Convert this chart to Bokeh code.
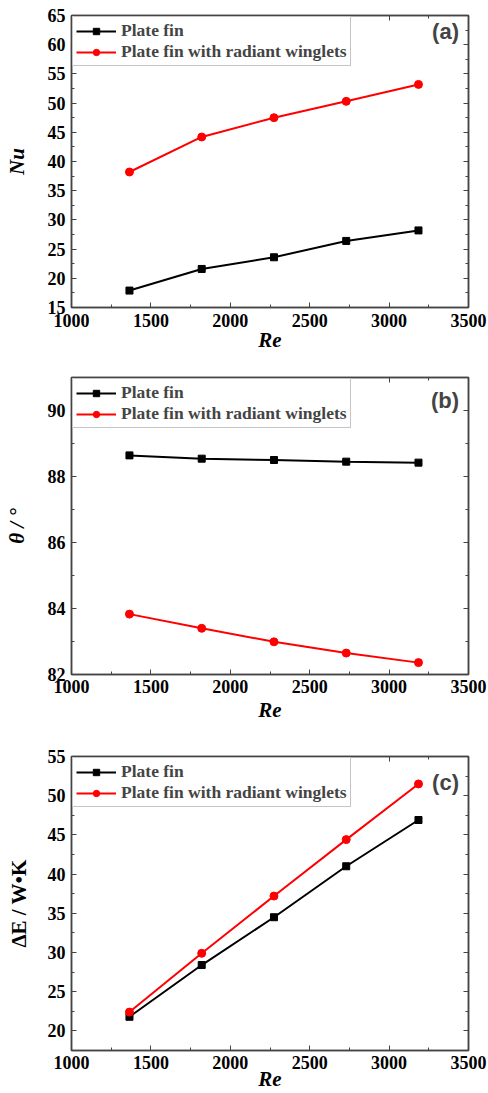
from bokeh.plotting import figure
from bokeh.layouts import column
from bokeh.models import LinearAxis, Range1d, FixedTicker, Label, Legend
from bokeh.embed import file_html
from bokeh.resources import INLINE

# Reynolds numbers tested
re_values = [1365, 1820, 2275, 2730, 3185]

# (a) Nusselt number
nu_plate = [17.9, 21.6, 23.6, 26.4, 28.2]
nu_winglet = [38.2, 44.2, 47.5, 50.3, 53.2]

# (b) field synergy angle, degrees
theta_plate = [88.64, 88.54, 88.50, 88.45, 88.42]
theta_winglet = [83.83, 83.40, 82.99, 82.65, 82.36]

# (c) entransy dissipation
de_plate = [21.8, 28.4, 34.5, 41.0, 46.9]
de_winglet = [22.4, 29.9, 37.2, 44.4, 51.5]

series_names = ["Plate fin", "Plate fin with radiant winglets"]
x_ticks = [1000, 1500, 2000, 2500, 3000, 3500]
x_minor = [1250, 1750, 2250, 2750, 3250]

SERIF = "Liberation Serif"
FRAME = "#444444"


def make_panel(y_plate, y_wing, y_range, y_ticks, y_minor, y_label, tag, tag_y,
               height, b_top, b_right, tick_standoff, xlab_standoff,
               ylab_standoff, ylab_style="bold italic"):
    p = figure(width=488, height=height, output_backend="svg",
               toolbar_location=None, x_range=Range1d(1000, 3500),
               y_range=Range1d(*y_range), x_axis_location=None,
               y_axis_location=None, min_border_left=71,
               min_border_right=b_right, min_border_top=b_top,
               min_border_bottom=5)
    p.grid.visible = False
    p.outline_line_color = FRAME
    p.outline_line_width = 1.5
    p.background_fill_color = "white"
    p.border_fill_color = "white"

    def style(ax, labels=True):
        ax.axis_line_color = FRAME
        ax.axis_line_width = 1.5
        ax.major_tick_line_color = FRAME
        ax.minor_tick_line_color = FRAME
        ax.major_tick_in = 5
        ax.major_tick_out = 0
        ax.minor_tick_in = 3
        ax.minor_tick_out = 0
        ax.major_label_text_font = SERIF
        ax.major_label_text_font_style = "bold"
        ax.major_label_text_color = "black" if labels else None
        ax.major_label_text_font_size = "18px" if labels else "1px"
        ax.axis_label_text_font = SERIF
        ax.axis_label_text_color = "black"
        ax.axis_label_text_font_size = "21px"

    # bottom axis carries the labels; the top one only mirrors the ticks
    xb = LinearAxis(ticker=FixedTicker(ticks=x_ticks, minor_ticks=x_minor))
    style(xb)
    xb.major_label_standoff = tick_standoff
    xb.axis_label = "Re"
    xb.axis_label_text_font_style = "bold italic"
    xb.axis_label_standoff = xlab_standoff
    p.add_layout(xb, "below")

    xt = LinearAxis(ticker=FixedTicker(ticks=x_ticks, minor_ticks=x_minor))
    style(xt, labels=False)
    xt.major_label_standoff = 0
    p.add_layout(xt, "above")

    yl = LinearAxis(ticker=FixedTicker(ticks=y_ticks, minor_ticks=y_minor))
    style(yl)
    yl.major_label_standoff = 6
    yl.axis_label = y_label
    yl.axis_label_text_font_style = ylab_style
    yl.axis_label_standoff = ylab_standoff
    p.add_layout(yl, "left")

    yr = LinearAxis(ticker=FixedTicker(ticks=y_ticks, minor_ticks=y_minor))
    style(yr, labels=False)
    yr.major_label_standoff = 0
    p.add_layout(yr, "right")

    items = []
    for ys, color, marker, name in [(y_plate, "black", "square", series_names[0]),
                                    (y_wing, "#ff0000", "circle", series_names[1])]:
        ln = p.line(re_values, ys, line_color=color, line_width=2)
        sc = p.scatter(re_values, ys, marker=marker, size=7 if marker == "square" else 8,
                       fill_color=color, line_color=color)
        items.append((name, [ln, sc]))

    legend = Legend(items=items, location="top_left", margin=1, padding=3,
                    spacing=0, label_height=16, glyph_height=16, glyph_width=40,
                    label_standoff=5, label_text_font=SERIF,
                    label_text_font_style="bold", label_text_font_size="17.5px",
                    border_line_color="#8a8a8a", border_line_width=1,
                    background_fill_alpha=1)
    p.add_layout(legend)

    p.add_layout(Label(x=3440, y=tag_y, text=tag, text_align="right",
                       text_baseline="middle", text_font="Liberation Sans",
                       text_font_style="bold", text_font_size="22px"))
    return p


pa = make_panel(nu_plate, nu_winglet, (15, 65), list(range(15, 66, 5)),
                [v + 2.5 for v in range(15, 61, 5)], "Nu", "(a)", 62.2,
                height=354, b_top=15, b_right=20, tick_standoff=6,
                xlab_standoff=-2, ylab_standoff=16)
pb = make_panel(theta_plate, theta_winglet, (82, 91), [82, 84, 86, 88, 90],
                [83, 85, 87, 89, 91], "\u03b8 / \u00b0", "(b)", 90.3,
                height=370, b_top=23, b_right=18, tick_standoff=5,
                xlab_standoff=2, ylab_standoff=16)
pc = make_panel(de_plate, de_winglet, (17.5, 55), list(range(20, 56, 5)),
                [v + 2.5 for v in range(15, 51, 5)], "\u0394E / W\u2022K", "(c)",
                51.7, height=369, b_top=32, b_right=20, tick_standoff=5,
                xlab_standoff=-5, ylab_standoff=14, ylab_style="bold")

layout = column(pa, pb, pc, spacing=0)
open("out.html", "w").write(file_html(layout, INLINE))
